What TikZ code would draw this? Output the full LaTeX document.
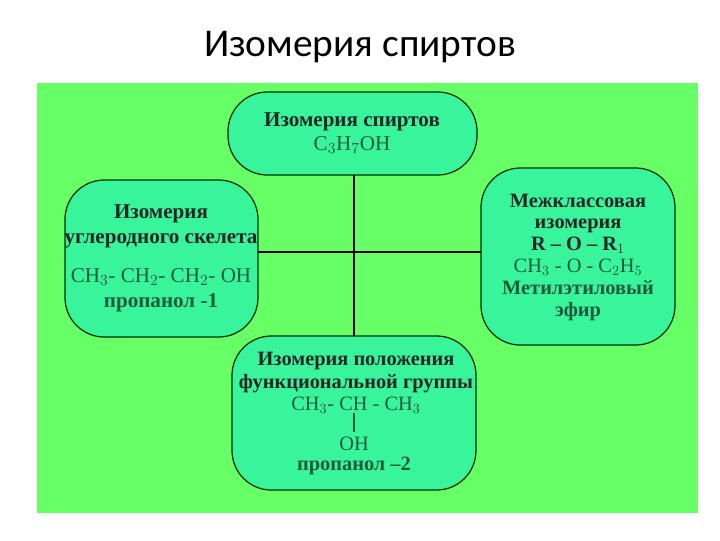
\documentclass[tikz,border=0pt]{standalone}
\usepackage{fontspec}
\setmainfont{Liberation Serif}
\newfontfamily\titlefont{Carlito}
\begin{document}
\begin{tikzpicture}[x=0.025cm,y=-0.025cm,
  box/.style={draw=black!80!green,line width=0.9pt,fill=boxc,rounded corners=28},
  txt/.style={align=center,font=\fontsize{14.5}{15.5}\selectfont,text=black!85},
  form/.style={text=formc},
  link/.style={line width=1.6pt}]
\definecolor{bgc}{HTML}{66FF66}
\definecolor{boxc}{HTML}{38F59C}
\definecolor{formc}{HTML}{1E5A3C}
\useasboundingbox (0,0) rectangle (720,540);
\node[font=\titlefont\fontsize{28}{32}\selectfont] (title) at (360,47) {Изомерия спиртов};
\fill[bgc] (37,83) rectangle (698,513);
\draw[box] (228,92) rectangle (477,175);
\draw[box] (65,180) rectangle (258,337);
\draw[box] (481,168) rectangle (675,345);
\draw[box] (232,336) rectangle (476,490);
\coordinate (t) at (354,175); \coordinate (b) at (354,336);
\coordinate (l) at (258,252); \coordinate (r) at (481,252);
\draw[link] (t) -- (b);
\draw[link] (l) -- (r);
\node[txt,font=\fontsize{15}{17}\selectfont] (n1) at (352,133) {\textbf{Изомерия спиртов}\\{\color{formc}C$_3$H$_7$OH}};
\node[txt,font=\fontsize{15}{17.8}\selectfont] (n2) at (161,258) {\textbf{Изомерия}\\\textbf{углеродного скелета}\\[10pt]
  {\color{formc}CH$_3$- CH$_2$- CH$_2$- OH}\\\textbf{\color{formc}пропанол -1}};
\node[txt] (n3) at (578,257) {\textbf{Межклассовая}\\\textbf{изомерия}\\\textbf{R -- O -- R$_1$}\\
  {\color{formc}CH$_3$ - O - C$_2$H$_5$}\\\textbf{\color{formc}Метилэтиловый}\\\textbf{\color{formc}эфир}};
\node[txt,font=\fontsize{14.5}{16}\selectfont] (n4) at (356,383) {\textbf{Изомерия положения}\\\textbf{функциональной группы}\\
  {\color{formc}CH$_3$- CH - CH$_3$}};
\node[txt,text=formc] (oh) at (354,444) {OH};
\node[txt,text=formc] (pr2) at (354,466) {\textbf{пропанол --2}};
\draw[formc,line width=0.8pt] (354,413) -- (oh.north);
\end{tikzpicture}
\end{document}
